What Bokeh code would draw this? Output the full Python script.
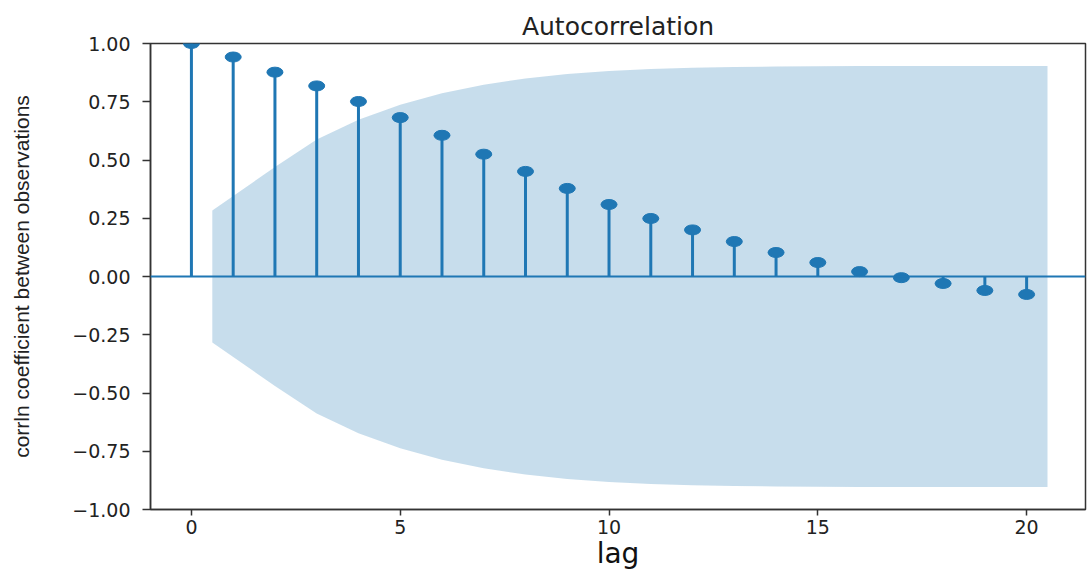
from bokeh.plotting import figure
from bokeh.models import FixedTicker, CustomJSTickFormatter, Span, Range1d
from bokeh.embed import file_html
from bokeh.resources import INLINE

# ---- data ----
lags = list(range(0, 21))
acf_values = [1.0, 0.942, 0.877, 0.818, 0.751, 0.682, 0.606, 0.525, 0.451, 0.378,
              0.309, 0.249, 0.200, 0.150, 0.103, 0.060, 0.021, -0.005, -0.030, -0.060, -0.077]

band_x = [0.5, 2, 3, 4, 5, 6, 7, 8, 9, 10, 11, 12, 13, 14, 15, 16, 17, 18, 19, 20.5]
band_upper = [0.283, 0.470, 0.588, 0.673, 0.737, 0.786, 0.823, 0.850, 0.869, 0.882,
              0.891, 0.896, 0.899, 0.901, 0.902, 0.903, 0.903, 0.903, 0.903, 0.903]
band_lower = [-v for v in band_upper]

y_ticks = [-1.0, -0.75, -0.5, -0.25, 0.0, 0.25, 0.5, 0.75, 1.0]
x_ticks = [0, 5, 10, 15, 20]

title_text = "Autocorrelation"
x_label = "lag"
y_label = "corrln coefficient between observations"

BLUE = "#1f77b4"

p = figure(frame_width=935, frame_height=466, output_backend="svg", toolbar_location=None,
           x_range=Range1d(-0.98, 21.41), y_range=Range1d(-1.0, 1.0),
           min_border_left=150, min_border_right=3, min_border_top=43, min_border_bottom=60)

p.title.text = title_text
p.title.align = "center"
p.title.text_font = "DejaVu Sans"
p.title.text_font_size = "25px"
p.title.text_font_style = "normal"
p.title.text_color = "#222222"
p.title.standoff = 6

p.xgrid.visible = False
p.ygrid.visible = False
p.outline_line_color = "#333333"
p.outline_line_width = 1.5
p.background_fill_color = "white"
p.border_fill_color = "white"

# confidence band
p.varea(x=band_x, y1=band_lower, y2=band_upper, fill_color=BLUE, fill_alpha=0.25)

# zero line
p.add_layout(Span(location=0, dimension="width", line_color=BLUE, line_width=2))

# stems and markers
p.segment(x0=lags, y0=[0] * len(lags), x1=lags, y1=acf_values, line_color=BLUE, line_width=3)
p.ellipse(x=lags, y=acf_values, width=16, height=10, width_units="screen", height_units="screen",
          fill_color=BLUE, line_color=BLUE)

fmt = CustomJSTickFormatter(code="return tick.toFixed(2).replace('-', '\u2212');")

for ax in (p.xaxis[0], p.yaxis[0]):
    ax.axis_line_color = "#333333"
    ax.axis_line_width = 1.5
    ax.major_tick_line_color = "#333333"
    ax.major_tick_line_width = 1.5
    ax.minor_tick_line_color = None
    ax.major_tick_in = 0
    ax.major_label_text_font = "DejaVu Sans"
    ax.major_label_text_font_size = "19px"
    ax.major_label_text_color = "#222222"

p.yaxis.ticker = FixedTicker(ticks=y_ticks)
p.yaxis.formatter = fmt
p.yaxis.major_tick_out = 8
p.yaxis.major_label_standoff = 12
p.yaxis.axis_label = y_label
p.yaxis.axis_label_text_font = "Liberation Sans"
p.yaxis.axis_label_text_font_size = "21px"
p.yaxis.axis_label_text_font_style = "normal"
p.yaxis.axis_label_text_color = "#222222"
p.yaxis.axis_label_standoff = 36

p.xaxis.ticker = FixedTicker(ticks=x_ticks)
p.xaxis.major_tick_out = 6
p.xaxis.major_label_standoff = 4
p.xaxis.axis_label = x_label
p.xaxis.axis_label_text_font = "DejaVu Sans"
p.xaxis.axis_label_text_font_size = "28px"
p.xaxis.axis_label_text_font_style = "normal"
p.xaxis.axis_label_text_color = "#111111"
p.xaxis.axis_label_standoff = 0

open("out.html", "w").write(file_html(p, INLINE))
